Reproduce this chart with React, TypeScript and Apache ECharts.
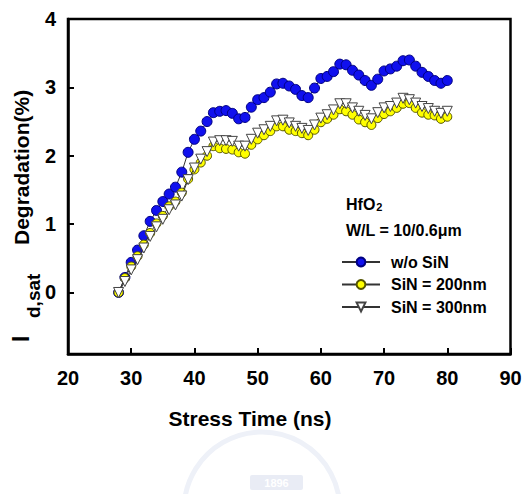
import React, { useEffect, useRef } from "react";
import * as echarts from "echarts";

const stressTime = [28,29,30,31,32,33,34,35,36,37,38,39,40,41,42,43,44,45,46,47,48,49,50,51,52,53,54,55,56,57,58,59,60,61,62,63,64,65,66,67,68,69,70,71,72,73,74,75,76,77,78,79,80];

const woSiN = [0,0.22,0.44,0.62,0.83,1.04,1.20,1.33,1.44,1.54,1.76,2.05,2.24,2.36,2.50,2.63,2.65,2.66,2.62,2.54,2.56,2.71,2.82,2.85,2.93,3.05,3.06,3.02,2.97,2.88,2.85,2.99,3.13,3.16,3.23,3.34,3.33,3.25,3.18,3.10,3.03,3.12,3.24,3.27,3.31,3.39,3.40,3.31,3.22,3.16,3.10,3.06,3.10];

const siN200 = [0,0.21,0.38,0.53,0.70,0.87,1.01,1.12,1.26,1.33,1.46,1.66,1.80,1.90,2.00,2.14,2.11,2.10,2.09,2.05,2.03,2.16,2.24,2.30,2.36,2.43,2.43,2.38,2.36,2.33,2.30,2.38,2.49,2.54,2.60,2.68,2.65,2.60,2.53,2.49,2.45,2.55,2.61,2.65,2.70,2.76,2.77,2.70,2.63,2.60,2.59,2.54,2.57];

const siN300 = [0,0.16,0.33,0.48,0.65,0.82,0.96,1.07,1.21,1.28,1.41,1.65,1.82,1.95,2.06,2.20,2.22,2.22,2.21,2.14,2.14,2.24,2.33,2.38,2.43,2.51,2.52,2.48,2.43,2.40,2.37,2.45,2.55,2.60,2.67,2.76,2.76,2.70,2.65,2.59,2.54,2.63,2.70,2.72,2.77,2.84,2.82,2.77,2.72,2.69,2.65,2.62,2.65];

const seriesNames = ["w/o SiN", "SiN = 200nm", "SiN = 300nm"];
const yTicks = [0, 1, 2, 3, 4];

const FONT = "'Liberation Sans', Arial, sans-serif";

export default function App() {
  const ref = useRef<HTMLDivElement>(null);
  useEffect(() => {
    if (!ref.current) return;
    const chart = echarts.init(ref.current, undefined, { renderer: "svg" });
    const pairs = (ys: number[]) => stressTime.map((x, i) => [x, ys[i]]);
    chart.setOption({
      animation: false,
      backgroundColor: "#ffffff",
      textStyle: { fontFamily: FONT },
      grid: {
        left: 68,
        top: 19,
        right: 21.5,
        bottom: 140,
        show: true,
        borderColor: "#000",
        borderWidth: 2.5,
        containLabel: false,
      },
      xAxis: {
        type: "value",
        min: 20,
        max: 90,
        interval: 10,
        axisLine: { show: true, onZero: false, lineStyle: { color: "#000", width: 2.5 } },
        axisTick: { show: true, inside: true, length: 6, lineStyle: { color: "#000", width: 2 } },
        axisLabel: { color: "#000", fontSize: 20, fontWeight: "bold", fontFamily: FONT, margin: 14 },
        splitLine: { show: false },
      },
      yAxis: {
        type: "value",
        min: -0.9,
        max: 4,
        axisLine: { show: true, onZero: false, lineStyle: { color: "#000", width: 2.5 } },
        axisTick: { show: true, inside: true, length: 6, customValues: yTicks, lineStyle: { color: "#000", width: 2 } },
        axisLabel: { color: "#000", fontSize: 20, fontWeight: "bold", fontFamily: FONT, margin: 12, customValues: yTicks },
        splitLine: { show: false },
      },
      legend: {
        orient: "vertical",
        left: 336,
        top: 249,
        itemWidth: 38,
        itemHeight: 11,
        itemGap: 6.5,
        data: seriesNames,
        textStyle: { color: "#000", fontSize: 16, fontWeight: "bold", fontFamily: FONT, padding: [0, 0, 0, 6] },
      },
      graphic: [
        {
          type: "group",
          x: 21,
          y: 344,
          rotation: Math.PI / 2,
          children: [
            {
              type: "text",
              x: 2,
              y: 0,
              style: { text: "I", fontSize: 23, fontWeight: "bold", fontFamily: FONT, fill: "#000", verticalAlign: "middle", align: "left" },
            },
            {
              type: "text",
              x: 26,
              y: 12,
              style: { text: "d,sat", fontSize: 19, fontWeight: "bold", fontFamily: FONT, fill: "#000", verticalAlign: "middle", align: "left" },
            },
            {
              type: "text",
              x: 99,
              y: 0,
              style: { text: "Degradation(%)", fontSize: 21, fontWeight: "bold", fontFamily: FONT, fill: "#000", verticalAlign: "middle", align: "left" },
            },
          ],
        },
        {
          type: "text",
          x: 250,
          y: 418,
          style: { text: "Stress Time (ns)", fontSize: 21, fontWeight: "bold", fontFamily: FONT, fill: "#000", align: "center", verticalAlign: "middle" },
        },
        {
          type: "text",
          x: 346,
          y: 202,
          style: {
            text: "{a|HfO}{b|2}",
            fontFamily: FONT,
            fill: "#000",
            verticalAlign: "middle",
            rich: {
              a: { fontSize: 16, fontWeight: "bold", fontFamily: FONT, fill: "#000", verticalAlign: "bottom", lineHeight: 20 },
              b: { fontSize: 11, fontWeight: "bold", fontFamily: FONT, fill: "#000", verticalAlign: "bottom", lineHeight: 10, padding: [0, 0, 0, 1] },
            },
          },
        },
        {
          type: "text",
          x: 346,
          y: 230,
          style: { text: "W/L = 10/0.6\u03bcm", fontSize: 16, fontWeight: "bold", fontFamily: FONT, fill: "#000", verticalAlign: "middle" },
        },
        {
          type: "circle",
          shape: { cx: 262, cy: 510, r: 78 },
          silent: true,
          z: -10,
          style: { fill: "none", stroke: "#eef1f8", lineWidth: 5 },
        },
        {
          type: "rect",
          shape: { x: 250, y: 475, width: 53, height: 15, r: 2 },
          silent: true,
          z: -10,
          style: { fill: "#e9ecf5" },
        },
        {
          type: "text",
          x: 276.5,
          y: 482.5,
          silent: true,
          z: -9,
          style: { text: "1896", fontSize: 11, fontWeight: "bold", fontFamily: FONT, fill: "#ffffff", align: "center", verticalAlign: "middle" },
        },
      ],
      series: [
        {
          name: seriesNames[0],
          type: "line",
          data: pairs(woSiN),
          symbol: "circle",
          symbolSize: 10,
          lineStyle: { color: "#333", width: 1 },
          itemStyle: { color: "#1010ee", borderColor: "#000080", borderWidth: 1 },
          z: 3,
        },
        {
          name: seriesNames[1],
          type: "line",
          data: pairs(siN200),
          symbol: "circle",
          symbolSize: 9,
          lineStyle: { color: "#333", width: 1 },
          itemStyle: { color: "#ffff00", borderColor: "#555500", borderWidth: 1 },
          z: 4,
        },
        {
          name: seriesNames[2],
          type: "line",
          data: pairs(siN300),
          symbol: "triangle",
          symbolRotate: 180,
          symbolSize: 10,
          lineStyle: { color: "#333", width: 1 },
          itemStyle: { color: "#ffffff", borderColor: "#444", borderWidth: 1 },
          z: 5,
        },
      ],
    });
    return () => chart.dispose();
  }, []);
  return <div ref={ref} style={{ width: 532, height: 494, position: "absolute", left: 0, top: 0 }} />;
}
